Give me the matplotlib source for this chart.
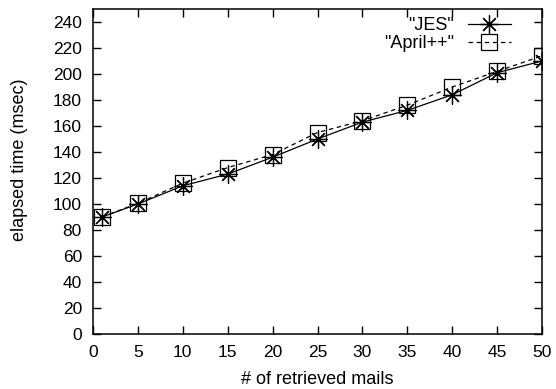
import numpy as np
import matplotlib.pyplot as plt

plt.rcParams['font.family'] = ['Liberation Sans', 'DejaVu Sans']

# retrieved mails vs. elapsed time (msec)
mails = [1, 5, 10, 15, 20, 25, 30, 35, 40, 45, 50]
jes = [90, 100, 114, 123, 136, 150, 163, 172, 184, 201, 210]
april = [90, 100.5, 116, 128, 138, 155, 164, 176, 190, 202, 214]

x_ticks = list(range(0, 51, 5))
y_ticks = list(range(0, 241, 20))

W, H = 556, 389
fig = plt.figure(figsize=(W / 100, H / 100), dpi=100)
ax = fig.add_axes([93 / W, 1 - 334 / H, (542 - 93) / W, (334 - 9) / H])

ax.plot(mails, jes, color='black', lw=0.9, ls='-',
        marker=(8, 2, 0), ms=13, mew=0.9, label='"JES"')
ax.plot(mails, april, color='black', lw=0.9, ls=(0, (3.5, 3)),
        marker='s', ms=12, mew=0.9, mfc='none', label='"April++"')

ax.set_xlim(0, 50)
ax.set_ylim(0, 250)
ax.set_xticks(x_ticks)
ax.set_yticks(y_ticks)
ax.tick_params(direction='in', length=5.5, width=1, labelsize=12.5,
               top=True, right=True, color='black')
ax.tick_params(axis='y', pad=8)
ax.tick_params(axis='x', pad=8)
for s in ax.spines.values():
    s.set_linewidth(1.1)

fig.text(317 / W, 1 - 380 / H, '# of retrieved mails', fontsize=13,
         ha='center', va='center')
fig.text(20 / W, 1 - 160 / H, 'elapsed time (msec)', fontsize=13,
         ha='center', va='center', rotation=90)

leg = ax.legend(loc='upper right', bbox_to_anchor=(511 / W, 1 - 17 / H),
                bbox_transform=fig.transFigure, frameon=False, fontsize=13,
                markerfirst=False, handlelength=2.4, handletextpad=0.75,
                borderaxespad=0, borderpad=0, labelspacing=0.05)
for t in leg.get_texts():
    t.set_ha('right')

fig.savefig('out.png', dpi=100)
